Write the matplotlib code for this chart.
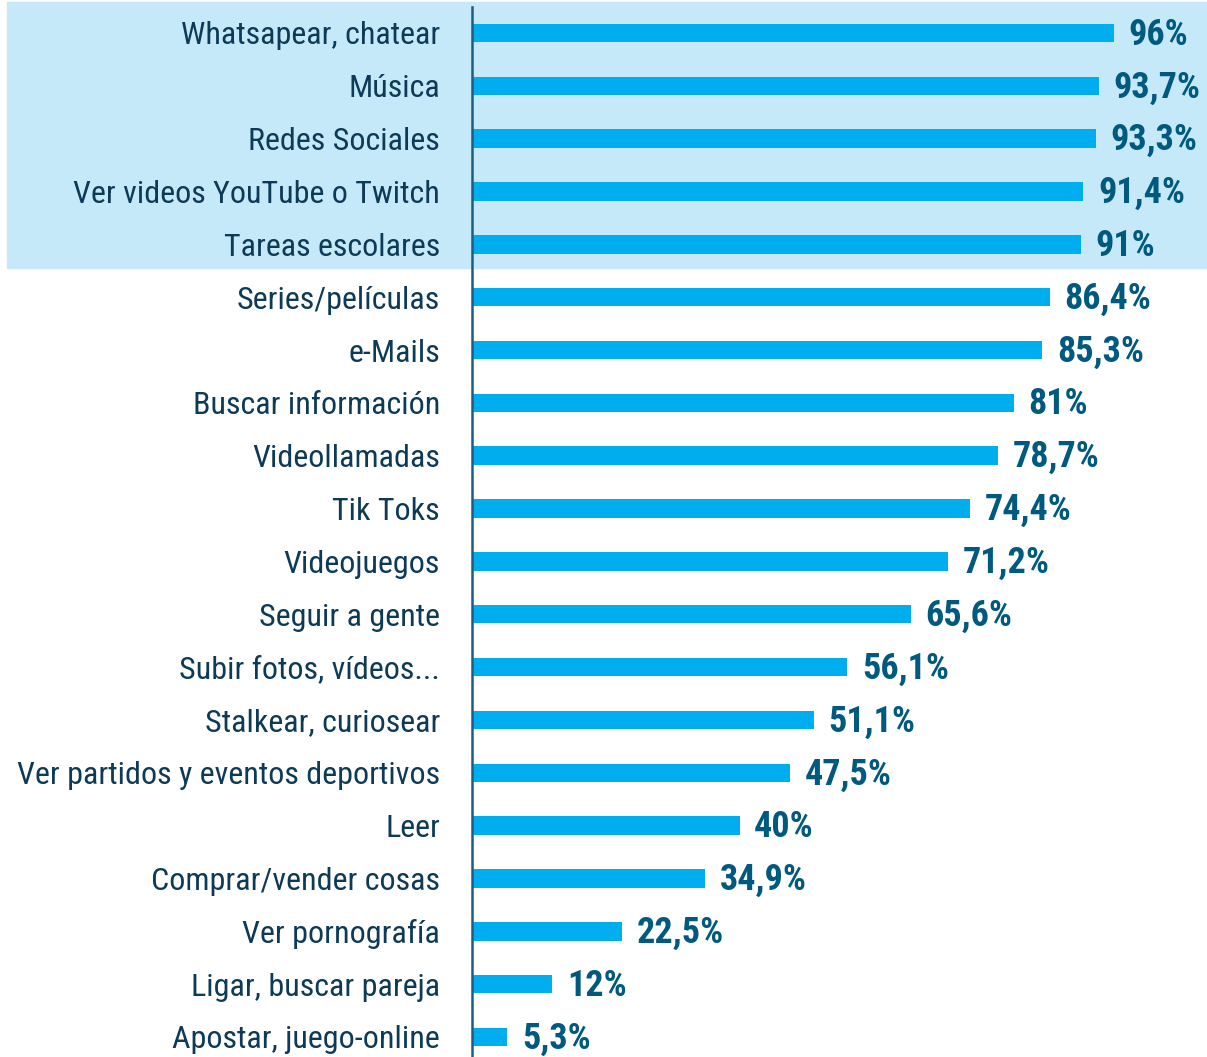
import matplotlib
matplotlib.use('Agg')
import matplotlib.pyplot as plt
from matplotlib.patches import Rectangle
from matplotlib.lines import Line2D

# Datos
actividades = [
    'Whatsapear, chatear', 'Música', 'Redes Sociales', 'Ver videos YouTube o Twitch',
    'Tareas escolares', 'Series/películas', 'e-Mails', 'Buscar información',
    'Videollamadas', 'Tik Toks', 'Videojuegos', 'Seguir a gente',
    'Subir fotos, vídeos...', 'Stalkear, curiosear', 'Ver partidos y eventos deportivos',
    'Leer', 'Comprar/vender cosas', 'Ver pornografía', 'Ligar, buscar pareja',
    'Apostar, juego-online',
]
porcentajes = [96, 93.7, 93.3, 91.4, 91, 86.4, 85.3, 81, 78.7, 74.4,
               71.2, 65.6, 56.1, 51.1, 47.5, 40, 34.9, 22.5, 12, 5.3]
etiquetas = ['96%', '93,7%', '93,3%', '91,4%', '91%', '86,4%', '85,3%', '81%',
             '78,7%', '74,4%', '71,2%', '65,6%', '56,1%', '51,1%', '47,5%', '40%',
             '34,9%', '22,5%', '12%', '5,3%']

COLOR_BARRA = '#00aeef'
COLOR_FONDO = '#c6e9fa'
COLOR_TEXTO = '#0d3a57'
COLOR_VALOR = '#005a80'
COLOR_EJE = '#1d5d84'
FUENTE = ['Roboto Condensed', 'DejaVu Sans']

W, H = 1207, 1057
fig = plt.figure(figsize=(W / 100, H / 100), dpi=100)

# banda destacada (top 5)
fig.patches.append(Rectangle((7 / W, 1 - 268 / H), 1 - 7 / W, 266 / H,
                             transform=fig.transFigure, color=COLOR_FONDO, zorder=-1))

ax = fig.add_axes([472 / W, 0, 1 - 472 / W, 1])
ax.patch.set_alpha(0)
pos = list(range(len(actividades)))
ax.barh(pos, porcentajes, height=0.35, color=COLOR_BARRA, zorder=2)
ax.set_xlim(0, 109.9)
ax.set_ylim((H - 33) / 52.84, -33 / 52.84)

for i, (v, t) in enumerate(zip(porcentajes, etiquetas)):
    ax.text(v + 2.2, i + 0.03, t, va='center', ha='left', fontsize=26, fontweight='bold',
            color=COLOR_VALOR, family=FUENTE)

ax.set_yticks(pos)
ax.set_yticklabels(actividades, fontsize=23, color=COLOR_TEXTO, family=FUENTE)
ax.tick_params(axis='y', length=0, pad=23)
ax.set_xticks([])
for s in ax.spines.values():
    s.set_visible(False)

# linea del eje
fig.lines.append(Line2D([472 / W, 472 / W], [0, 1 - 7 / H], transform=fig.transFigure,
                        color=COLOR_EJE, linewidth=1.8, zorder=5))

plt.savefig('out.png', dpi=100)
